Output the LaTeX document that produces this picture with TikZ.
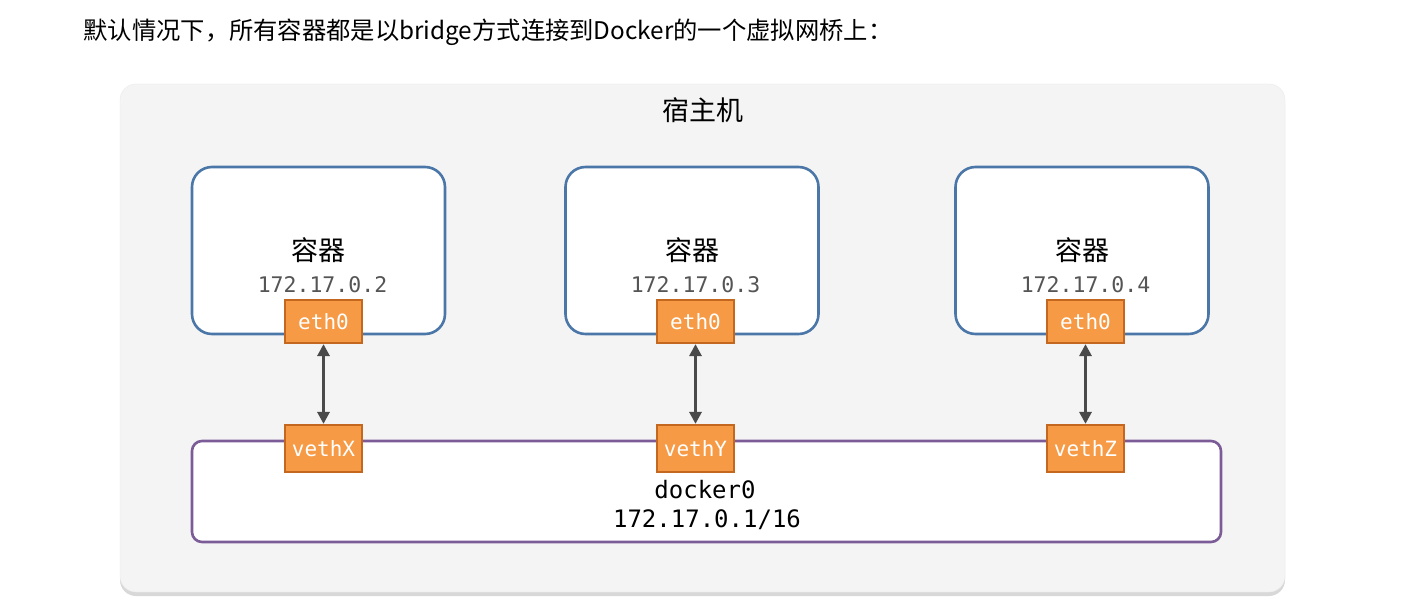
\documentclass[tikz,border=0pt]{standalone}
\usepackage{fontspec}
\setmainfont{Noto Sans CJK SC}
\setmonofont{DejaVu Sans Mono}
\usetikzlibrary{arrows.meta,shadows}
\definecolor{hostfill}{HTML}{F4F4F4}
\definecolor{ctborder}{HTML}{4A76A8}
\definecolor{ethfill}{HTML}{F79A45}
\definecolor{ethborder}{HTML}{C4681F}
\definecolor{brborder}{HTML}{7B5C97}
\definecolor{arrowc}{HTML}{4A4A4A}
\definecolor{ipgray}{HTML}{555555}
\tikzset{
  hostbox/.style={fill=hostfill, draw=black!8, rounded corners=16pt, inner sep=0pt,
    drop shadow={shadow xshift=0pt, shadow yshift=-4pt, opacity=0.25, fill=black!60}},
  ctbox/.style={draw=ctborder, line width=2.6pt, fill=white, rounded corners=20pt, inner sep=0pt,
    minimum width=253pt, minimum height=167pt},
  brbox/.style={draw=brborder, line width=2.6pt, fill=white, rounded corners=10pt, inner sep=0pt,
    minimum width=1029pt, minimum height=101pt},
  port/.style={draw=ethborder, line width=2.2pt, fill=ethfill, inner sep=0pt,
    minimum width=77pt, minimum height=45pt, text=white, font=\fontsize{21}{23}\selectfont\ttfamily},
  ctlabel/.style={font=\fontsize{27}{30}\selectfont, text=black},
  iplabel/.style={font=\fontsize{21.5}{24}\selectfont\ttfamily, text=ipgray},
  brlabel/.style={font=\fontsize{24}{28}\selectfont\ttfamily, text=black},
  link/.style={draw=arrowc, line width=3pt, {Triangle[length=12pt,width=12pt]}-{Triangle[length=12pt,width=12pt]}}
}
\begin{document}
\begin{tikzpicture}[x=1pt,y=-1pt]
\useasboundingbox (0,0) rectangle (1417,602);
\fill[white] (0,0) rectangle (1417,602);
\node[anchor=west, font=\fontsize{24.3}{27}\selectfont] (title) at (80,32) {默认情况下，所有容器都是以bridge方式连接到Docker的一个虚拟网桥上：};
\node[hostbox, minimum width=1165pt, minimum height=508pt] (host) at (702.5,338) {};
\node[font=\fontsize{27}{30}\selectfont] (hostlabel) at (703,110) {宿主机};
% containers
\node[ctbox] (c1) at (318.5,250.5) {};
\node[ctbox] (c2) at (692,250.5) {};
\node[ctbox] (c3) at (1082,250.5) {};
\node[ctlabel] (c1l) at (318.5,250) {容器};
\node[ctlabel] (c2l) at (692,250) {容器};
\node[ctlabel] (c3l) at (1082,250) {容器};
\node[iplabel] (c1ip) at (322.5,285) {172.17.0.2};
\node[iplabel] (c2ip) at (695.5,285) {172.17.0.3};
\node[iplabel] (c3ip) at (1085.5,285) {172.17.0.4};
% bridge
\node[brbox] (br) at (706.5,491.5) {};
\node[brlabel] (brname) at (705,490) {docker0};
\node[brlabel] (brip) at (707,520) {172.17.0.1/16};
% ports
\node[port, minimum height=43pt] (e1) at (323.5,321.5) {eth0};
\node[port, minimum height=43pt] (e2) at (695.5,321.5) {eth0};
\node[port, minimum height=43pt] (e3) at (1085.5,321.5) {eth0};
\node[port, minimum height=47pt] (v1) at (323.5,448.5) {vethX};
\node[port, minimum height=47pt] (v2) at (695.5,448.5) {vethY};
\node[port, minimum height=47pt] (v3) at (1085.5,448.5) {vethZ};
% links
\draw[link] (e1) -- (v1);
\draw[link] (e2) -- (v2);
\draw[link] (e3) -- (v3);
\end{tikzpicture}
\end{document}
